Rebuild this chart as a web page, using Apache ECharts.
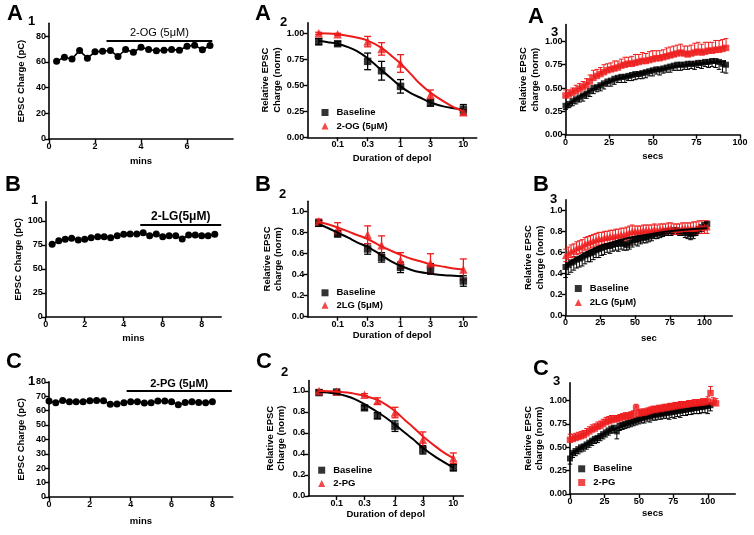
<!DOCTYPE html>
<html><head><meta charset="utf-8">
<script src="https://cdn.jsdelivr.net/npm/echarts@6/dist/echarts.min.js"></script>
<style>html,body{margin:0;padding:0;background:#fff}#c{width:754px;height:535px}</style>
</head><body><div id="c"></div>
<script>
// ---------- Panel 1 data (time courses) ----------
const a1Time = [0.33,0.67,1,1.33,1.67,2,2.33,2.67,3,3.33,3.67,4,4.33,4.67,5,5.33,5.67,6,6.33,6.67,7];
const a1Charge = [60.5,63.6,62.3,68.8,62.9,67.8,68.3,68.8,64.2,69.6,67.5,71.4,69.6,68.6,69.1,69.6,69.1,72.2,73.0,69.4,72.7];
const a1Drug = [2.5, 7.1, 76.5];
const b1Time = [0.33,0.67,1,1.33,1.67,2,2.33,2.67,3,3.33,3.67,4,4.33,4.67,5,5.33,5.67,6,6.33,6.67,7,7.33,7.67,8,8.33,8.67];
const b1Charge = [75.7,79.5,80.9,82,80.2,80.9,82.6,83.7,83.7,82.6,84.7,86.1,86.5,86.5,87.8,84.7,86.5,83.7,84.7,84.7,81.3,85.4,85.4,84.7,84.7,86.1];
const b1Drug = [4.85, 9.0, 96.5];
const c1Time = [0,0.33,0.67,1,1.33,1.67,2,2.33,2.67,3,3.33,3.67,4,4.33,4.67,5,5.33,5.67,6,6.33,6.67,7,7.33,7.67,8];
const c1Charge = [66.7,65.5,67.1,66.2,66.2,66.2,66.9,67.1,66.9,64.4,64.6,65.5,66.2,66.2,65.3,65.5,66.7,66.7,66.2,64.1,65.7,66.2,65.7,65.5,66.2];
const c1Drug = [3.8, 8.95, 73.6];

// ---------- Panel 2 data (duration of depol) ----------
const durX = [0.05,0.1,0.3,0.5,1,3,10];
const fitX = [0.05,0.07,0.1,0.15,0.2,0.3,0.5,0.7,1,1.5,2,3,5,7,10];
const a2Base = [0.92,0.90,0.73,0.64,0.49,0.33,0.27];
const a2BaseErr = [0.03,0.02,0.08,0.09,0.065,0.03,0.045];
const a2Drug = [1.0,0.99,0.92,0.85,0.71,0.41,0.24];
const a2DrugErr = [0.01,0.01,0.05,0.06,0.085,0.045,0.025];
const a2BaseFit = [0.925,0.915,0.90,0.865,0.83,0.76,0.645,0.57,0.49,0.42,0.385,0.335,0.295,0.28,0.265];
const a2DrugFit = [1.0,0.998,0.99,0.975,0.96,0.93,0.86,0.79,0.71,0.60,0.52,0.43,0.34,0.29,0.25];
const b2Base = [0.89,0.79,0.645,0.565,0.47,0.455,0.34];
const b2BaseErr = [0.03,0.03,0.05,0.045,0.05,0.05,0.05];
const b2Drug = [0.91,0.835,0.78,0.68,0.535,0.51,0.45];
const b2DrugErr = [0.02,0.06,0.085,0.09,0.075,0.09,0.1];
const b2BaseFit = [0.88,0.845,0.80,0.75,0.71,0.665,0.585,0.53,0.485,0.445,0.425,0.41,0.395,0.39,0.385];
const b2DrugFit = [0.905,0.88,0.85,0.81,0.78,0.74,0.67,0.63,0.59,0.55,0.53,0.50,0.475,0.46,0.45];
const c2Base = [0.985,0.99,0.84,0.765,0.665,0.44,0.27];
const c2BaseErr = [0.02,0.01,0.02,0.03,0.05,0.04,0.03];
const c2Drug = [1.0,0.995,0.965,0.905,0.795,0.535,0.36];
const c2DrugErr = [0.01,0.01,0.01,0.03,0.05,0.075,0.05];
const c2BaseFit = [0.99,0.985,0.975,0.95,0.925,0.875,0.80,0.745,0.68,0.60,0.545,0.46,0.37,0.32,0.27];
const c2DrugFit = [1.0,0.998,0.995,0.985,0.975,0.955,0.915,0.87,0.81,0.72,0.66,0.57,0.47,0.41,0.36];

// ---------- Panel 3 data (recovery, [sec, value, sem]) ----------
const a3Base = [[0,0.31,0.04],[2,0.33,0.04],[4,0.36,0.05],[6,0.38,0.05],[8,0.40,0.05],[10,0.42,0.06],[12,0.44,0.05],[14,0.47,0.06],[16,0.50,0.06],[18,0.51,0.05],[20,0.53,0.06],[22,0.55,0.06],[24,0.57,0.05],[26,0.58,0.06],[28,0.60,0.06],[30,0.61,0.05],[32,0.62,0.06],[34,0.62,0.06],[36,0.63,0.05],[38,0.64,0.06],[40,0.65,0.06],[42,0.65,0.05],[44,0.66,0.06],[46,0.67,0.06],[48,0.68,0.05],[50,0.69,0.06],[52,0.70,0.05],[54,0.70,0.06],[56,0.71,0.05],[58,0.72,0.05],[60,0.73,0.06],[62,0.74,0.05],[64,0.75,0.06],[66,0.75,0.06],[68,0.75,0.05],[70,0.76,0.06],[72,0.76,0.05],[74,0.76,0.06],[76,0.77,0.05],[78,0.77,0.06],[80,0.78,0.05],[82,0.78,0.06],[84,0.79,0.06],[86,0.79,0.07],[88,0.78,0.08],[90,0.76,0.09],[92,0.75,0.09]];
const a3Drug = [[0,0.42,0.06],[2,0.43,0.05],[4,0.45,0.05],[6,0.47,0.06],[8,0.49,0.06],[10,0.51,0.06],[12,0.53,0.07],[14,0.57,0.07],[16,0.61,0.08],[18,0.63,0.07],[20,0.65,0.07],[22,0.67,0.08],[24,0.69,0.07],[26,0.70,0.07],[28,0.71,0.08],[30,0.72,0.07],[32,0.74,0.07],[34,0.75,0.08],[36,0.76,0.07],[38,0.76,0.08],[40,0.77,0.09],[42,0.78,0.08],[44,0.79,0.09],[46,0.79,0.08],[48,0.80,0.09],[50,0.81,0.09],[52,0.82,0.08],[54,0.82,0.08],[56,0.83,0.08],[58,0.84,0.09],[60,0.85,0.09],[62,0.86,0.09],[64,0.87,0.09],[66,0.88,0.09],[68,0.87,0.08],[70,0.86,0.09],[72,0.87,0.09],[74,0.88,0.10],[76,0.89,0.10],[78,0.88,0.09],[80,0.89,0.10],[82,0.90,0.09],[84,0.90,0.09],[86,0.91,0.10],[88,0.91,0.10],[90,0.92,0.10],[92,0.93,0.10]];
const a3FitX = [0,5,10,15,20,25,30,40,50,60,70,80,92];
const a3Fit = [0.30,0.37,0.43,0.48,0.53,0.57,0.60,0.65,0.69,0.72,0.75,0.77,0.79];
const b3Base = [[0,0.46,0.10],[2,0.48,0.09],[4,0.50,0.09],[6,0.51,0.08],[8,0.53,0.08],[10,0.54,0.08],[12,0.55,0.08],[14,0.57,0.08],[16,0.58,0.07],[18,0.59,0.08],[20,0.60,0.07],[22,0.62,0.07],[24,0.63,0.08],[26,0.64,0.07],[28,0.65,0.07],[30,0.66,0.06],[32,0.66,0.07],[34,0.67,0.06],[36,0.68,0.06],[38,0.68,0.07],[40,0.69,0.06],[42,0.68,0.06],[44,0.67,0.05],[46,0.69,0.06],[48,0.71,0.06],[50,0.72,0.05],[52,0.72,0.06],[54,0.73,0.05],[56,0.74,0.05],[58,0.74,0.05],[60,0.75,0.05],[62,0.76,0.05],[64,0.77,0.04],[66,0.78,0.05],[68,0.78,0.04],[70,0.79,0.04],[72,0.80,0.04],[74,0.80,0.04],[76,0.80,0.04],[78,0.81,0.04],[80,0.81,0.04],[82,0.80,0.04],[84,0.80,0.04],[86,0.79,0.05],[88,0.78,0.05],[90,0.77,0.05],[92,0.78,0.05],[94,0.80,0.04],[96,0.82,0.04],[98,0.84,0.04],[100,0.86,0.04],[102,0.87,0.04]];
const b3Drug = [[0,0.57,0.06],[2,0.59,0.06],[4,0.61,0.06],[6,0.62,0.06],[8,0.64,0.06],[10,0.65,0.06],[12,0.66,0.06],[14,0.68,0.06],[16,0.69,0.06],[18,0.70,0.06],[20,0.71,0.06],[22,0.72,0.06],[24,0.73,0.06],[26,0.73,0.06],[28,0.74,0.06],[30,0.74,0.06],[32,0.75,0.06],[34,0.75,0.06],[36,0.76,0.06],[38,0.76,0.06],[40,0.77,0.06],[42,0.77,0.06],[44,0.78,0.06],[46,0.79,0.06],[48,0.80,0.06],[50,0.80,0.05],[52,0.80,0.05],[54,0.80,0.05],[56,0.81,0.05],[58,0.81,0.05],[60,0.81,0.05],[62,0.81,0.05],[64,0.82,0.05],[66,0.81,0.05],[68,0.82,0.05],[70,0.82,0.05],[72,0.82,0.05],[74,0.83,0.05],[76,0.83,0.05],[78,0.82,0.05],[80,0.82,0.05],[82,0.82,0.05],[84,0.83,0.05],[86,0.83,0.05],[88,0.83,0.05],[90,0.83,0.05],[92,0.83,0.06],[94,0.83,0.06],[96,0.84,0.06],[98,0.84,0.06],[100,0.84,0.06],[102,0.84,0.06]];
const b3FitX = [0,5,10,15,20,25,30,40,50,60,75,90,102];
const b3Fit = [0.47,0.52,0.56,0.60,0.63,0.66,0.68,0.72,0.75,0.77,0.80,0.82,0.83];
const c3Base = [[0,0.38,0.06],[2,0.44,0.05],[4,0.46,0.05],[6,0.48,0.05],[8,0.50,0.05],[10,0.51,0.05],[12,0.53,0.05],[14,0.55,0.05],[16,0.57,0.05],[18,0.59,0.05],[20,0.60,0.05],[22,0.62,0.05],[24,0.64,0.05],[26,0.66,0.05],[28,0.68,0.05],[30,0.70,0.05],[32,0.71,0.05],[34,0.67,0.08],[36,0.73,0.05],[38,0.74,0.05],[40,0.75,0.05],[42,0.76,0.05],[44,0.77,0.05],[46,0.78,0.05],[48,0.79,0.05],[50,0.80,0.05],[52,0.81,0.05],[54,0.82,0.06],[56,0.83,0.05],[58,0.83,0.06],[60,0.84,0.05],[62,0.85,0.06],[64,0.85,0.05],[66,0.86,0.06],[68,0.86,0.05],[70,0.87,0.06],[72,0.87,0.07],[74,0.88,0.06],[76,0.88,0.07],[78,0.89,0.06],[80,0.89,0.07],[82,0.90,0.06],[84,0.90,0.06],[86,0.91,0.06],[88,0.91,0.06],[90,0.92,0.06],[92,0.92,0.06],[94,0.93,0.07],[96,0.93,0.06],[98,0.94,0.07],[100,0.94,0.08],[102,0.95,0.06]];
const c3Drug = [[0,0.58,0.06],[2,0.59,0.05],[4,0.60,0.05],[6,0.61,0.05],[8,0.62,0.05],[10,0.63,0.05],[12,0.65,0.05],[14,0.67,0.05],[16,0.69,0.05],[18,0.70,0.05],[20,0.72,0.05],[22,0.73,0.05],[24,0.75,0.05],[26,0.77,0.05],[28,0.78,0.05],[30,0.79,0.05],[32,0.80,0.04],[34,0.80,0.04],[36,0.81,0.04],[38,0.82,0.04],[40,0.83,0.04],[42,0.83,0.04],[44,0.84,0.04],[46,0.85,0.04],[48,0.92,0.04],[50,0.86,0.04],[52,0.87,0.04],[54,0.87,0.04],[56,0.88,0.04],[58,0.89,0.04],[60,0.90,0.04],[62,0.90,0.04],[64,0.91,0.04],[66,0.91,0.04],[68,0.92,0.04],[70,0.92,0.04],[72,0.93,0.04],[74,0.93,0.04],[76,0.94,0.04],[78,0.94,0.04],[80,0.95,0.04],[82,0.95,0.04],[84,0.95,0.04],[86,0.96,0.04],[88,0.96,0.04],[90,0.97,0.04],[92,0.97,0.04],[94,0.97,0.04],[96,0.98,0.04],[98,0.98,0.04],[100,0.99,0.05],[102,1.08,0.07],[104,0.98,0.05],[106,0.97,0.05]];
const c3FitX = [0,5,10,15,20,25,30,40,50,60,75,90,102];
const c3Fit = [0.42,0.47,0.52,0.57,0.61,0.65,0.68,0.74,0.79,0.83,0.88,0.92,0.94];

// ---------- Tick labels ----------
const a1XTicks = [0,2,4,6];
const b1XTicks = [0,2,4,6,8];
const c1XTicks = [0,2,4,6,8];
const durTicks = [0.1,0.3,1,3,10];
const secTicks = [0,25,50,75,100];
const a1YTicks = [0,20,40,60,80];
const b1YTicks = [0,25,50,75,100];
const c1YTicks = [0,10,20,30,40,50,60,70,80];
const quarterTicks = [0,0.25,0.5,0.75,1];
const fifthTicks = [0,0.2,0.4,0.6,0.8,1];

// ---------- layout / styling ----------
const FONT = '"Liberation Sans", Arial, sans-serif';
const RED = '#ee1b1b';
const grids = [
  {left:49, top:23.3, width:184, height:115.7},
  {left:307.3, top:22.9, width:169.4, height:114.4},
  {left:565.5, top:24.6, width:174.5, height:110.1},
  {left:45.7, top:201.8, width:175.5, height:115.2},
  {left:307.3, top:201.2, width:169.4, height:115.5},
  {left:565.5, top:199.8, width:166.8, height:115.5},
  {left:49, top:381.8, width:183.8, height:115.2},
  {left:308.3, top:380.5, width:155, height:115.5},
  {left:570, top:382.8, width:165.3, height:111.2}
].map(g => Object.assign({outerBoundsMode:'none', containLabel:false}, g));

const xSpec = [
  ['value',0,8,a1XTicks,0,'mins',17],
  ['log',0.0329,16.3,durTicks,-1,'Duration of depol',15],
  ['value',0,100,secTicks,0,'secs',16],
  ['value',0,9,b1XTicks,0,'mins',16],
  ['log',0.0329,16.3,durTicks,-1,'Duration of depol',13],
  ['value',0,120,secTicks,0,'sec',17],
  ['value',0,9,c1XTicks,0,'mins',19],
  ['log',0.0327,14.8,durTicks,-1,'Duration of depol',13],
  ['value',0,120,secTicks,0,'secs',14]
];
const ySpec = [
  [0,90,a1YTicks,0,'EPSC Charge (pC)',22],
  [0,1.1,quarterTicks,2,'Relative EPSC\nCharge (norm)',18],
  [0,1.18,quarterTicks,2,'Relative EPSC\ncharge (norm)',24],
  [0,120,b1YTicks,0,'EPSC Charge (pC)',20],
  [0,1.1,fifthTicks,1,'Relative EPSC\ncharge (norm)',23],
  [0,1.1,fifthTicks,1,'Relative EPSC\ncharge (norm)',19],
  [0,80,c1YTicks,0,'EPSC Charge (pC)',22],
  [0,1.1,fifthTicks,1,'Relative EPSC\nCharge (norm)',21],
  [0,1.19,quarterTicks,2,'Relative EPSC\ncharge (norm)',21]
];
const lineAx = {lineStyle:{color:'#000', width:1.6}};
const tickAx = {length:4, lineStyle:{color:'#000', width:1.4}};
const lblStyle = {color:'#000', fontFamily:FONT, fontSize:9, fontWeight:'bold', margin:3};
const nameStyle = {color:'#000', fontFamily:FONT, fontSize:9.5, fontWeight:'bold', lineHeight:11.5};

const xAxis = xSpec.map((s,i) => ({
  type:s[0], gridIndex:i, min:s[1], max:s[2], logBase:10,
  name:s[5], nameLocation:'middle', nameGap:s[6], nameTextStyle:nameStyle,
  axisLine:Object.assign({onZero:false}, lineAx),
  axisTick:Object.assign({customValues:s[3]}, tickAx),
  axisLabel:Object.assign({customValues:s[3], formatter:v => s[4] < 0 ? String(+(+v).toPrecision(3)) : (+v).toFixed(s[4])}, lblStyle),
  splitLine:{show:false}, minorTick:{show:false}
}));
const yAxis = ySpec.map((s,i) => ({
  type:'value', gridIndex:i, min:s[0], max:s[1],
  name:s[4], nameLocation:'middle', nameRotate:90, nameGap:s[5], nameTextStyle:nameStyle,
  axisLine:Object.assign({onZero:false}, lineAx),
  axisTick:Object.assign({customValues:s[2]}, tickAx),
  axisLabel:Object.assign({customValues:s[2], formatter:v => (+v).toFixed(s[3])}, lblStyle),
  splitLine:{show:false}
}));

function timeSeries(gi, xs, ys, bar, label, fw, fs) {
  return {
    type:'line', xAxisIndex:gi, yAxisIndex:gi, silent:true, emphasis:{disabled:true},
    data: xs.map((x,i) => [x, ys[i]]),
    symbol:'circle', symbolSize:7, showAllSymbol:true,
    itemStyle:{color:'#000'}, lineStyle:{color:'#000', width:1.6},
    markLine:{
      silent:true, animation:false, symbol:['none','none'],
      lineStyle:{color:'#000', width:1.8, type:'solid'},
      label:{show:true, position:'insideMiddleTop', formatter:label, color:'#000', fontFamily:FONT, fontSize:fs, fontWeight:fw, distance:2},
      emphasis:{disabled:true},
      data:[[{coord:[bar[0], bar[2]]},{coord:[bar[1], bar[2]]}]]
    }
  };
}

function errSeries(gi, pts, color, dir, cap, lw) {
  return {
    type:'custom', xAxisIndex:gi, yAxisIndex:gi, silent:true, data:pts,
    encode:{x:0, y:1}, clip:false,
    renderItem:function(params, api) {
      const x = api.value(0), y = api.value(1), e = api.value(2);
      const top = api.coord([x, dir === 'down' ? y : y + e]);
      const bot = api.coord([x, dir === 'up' ? y : y - e]);
      const st = {stroke:color, lineWidth:lw};
      const ch = [{type:'line', shape:{x1:top[0], y1:top[1], x2:bot[0], y2:bot[1]}, style:st}];
      if (dir !== 'down') ch.push({type:'line', shape:{x1:top[0]-cap, y1:top[1], x2:top[0]+cap, y2:top[1]}, style:st});
      if (dir !== 'up') ch.push({type:'line', shape:{x1:bot[0]-cap, y1:bot[1], x2:bot[0]+cap, y2:bot[1]}, style:st});
      return {type:'group', children:ch};
    }
  };
}

function fitSeries(gi, xs, ys, color, nm) {
  return {type:'line', name:nm, xAxisIndex:gi, yAxisIndex:gi, silent:true, emphasis:{disabled:true},
    data: xs.map((x,i) => [x, ys[i]]), smooth:0.35, symbol:'none',
    lineStyle:{color:color, width:2}, itemStyle:{color:color}};
}

function ptSeries(gi, pts, color, sym, size, nm) {
  return {type:'scatter', name:nm, xAxisIndex:gi, yAxisIndex:gi, silent:true, emphasis:{disabled:true},
    data:pts, symbol:sym, symbolSize:size, itemStyle:{color:color}, encode:{x:0, y:1}};
}

function doseSet(gi, base, baseErr, drug, drugErr, baseFit, drugFit, drugName) {
  const bp = durX.map((x,i) => [x, base[i], baseErr[i]]);
  const dp = durX.map((x,i) => [x, drug[i], drugErr[i]]);
  return [
    fitSeries(gi, fitX, baseFit, '#000', 'fitB' + gi),
    fitSeries(gi, fitX, drugFit, RED, 'fitD' + gi),
    errSeries(gi, bp, '#000', 'both', 3.5, 1.3),
    errSeries(gi, dp, RED, 'both', 3.5, 1.3),
    ptSeries(gi, bp, '#000', 'rect', 7.5, 'Baseline'),
    ptSeries(gi, dp, RED, 'triangle', 8.5, drugName)
  ];
}

function recSet(gi, base, drug, fx, fy, drugName, drugSym, drugDir) {
  return [
    errSeries(gi, base, '#000', 'down', 2.3, 1),
    ptSeries(gi, base, '#000', 'rect', 6, 'Baseline'),
    errSeries(gi, drug, RED, drugDir, 2.3, 1),
    ptSeries(gi, drug, RED, drugSym, drugSym === 'triangle' ? 7 : 6.5, drugName),
    fitSeries(gi, fx, fy, '#000', 'fit3' + gi)
  ];
}

const series = [].concat(
  [timeSeries(0, a1Time, a1Charge, a1Drug, '2-OG (5μM)', 'normal', 11)],
  doseSet(1, a2Base, a2BaseErr, a2Drug, a2DrugErr, a2BaseFit, a2DrugFit, '2-OG (5μM)'),
  recSet(2, a3Base, a3Drug, a3FitX, a3Fit, '2-OG (5μM) ', 'rect', 'up'),
  [timeSeries(3, b1Time, b1Charge, b1Drug, '2-LG(5μM)', 'bold', 12)],
  doseSet(4, b2Base, b2BaseErr, b2Drug, b2DrugErr, b2BaseFit, b2DrugFit, '2LG (5μM)'),
  recSet(5, b3Base, b3Drug, b3FitX, b3Fit, '2LG (5μM)', 'triangle', 'both'),
  [timeSeries(6, c1Time, c1Charge, c1Drug, '2-PG (5μM)', 'bold', 11)],
  doseSet(7, c2Base, c2BaseErr, c2Drug, c2DrugErr, c2BaseFit, c2DrugFit, '2-PG'),
  recSet(8, c3Base, c3Drug, c3FitX, c3Fit, '2-PG', 'rect', 'up')
);

const legTxt = {color:'#000', fontFamily:FONT, fontSize:9.5, fontWeight:'bold', padding:[0,0,0,3]};
function leg(left, top, gap, items) {
  return {left:left, top:top, orient:'vertical', itemWidth:7, itemHeight:7, itemGap:gap, padding:0,
    selectedMode:false, textStyle:legTxt, data:items.map(it => ({name:it[0], icon:it[1]}))};
}
const legend = [
  leg(321.5, 107.5, 3.5, [['Baseline','rect'],['2-OG (5μM)','triangle']]),
  leg(321.5, 287.8, 2.4, [['Baseline','rect'],['2LG (5μM)','triangle']]),
  leg(318.2, 465.2, 3.3, [['Baseline','rect'],['2-PG','triangle']]),
  leg(574.8, 283.5, 4, [['Baseline','rect'],['2LG (5μM)','triangle']]),
  leg(578.2, 463.8, 3.7, [['Baseline','rect'],['2-PG','rect']])
];

const letters = [
  ['A','1',7,3,28,15],['A','2',255,3,280,16],['A','3',528,6,551,26],
  ['B','1',5,174,31,194],['B','2',255,174,279,188],['B','3',533,174,550,193],
  ['C','1',6,351,28,375],['C','2',256,351,281,366],['C','3',533,358,553,375]
];
const graphic = [];
letters.forEach(l => {
  graphic.push({type:'text', left:l[2], top:l[3], silent:true,
    style:{text:l[0], fontFamily:FONT, fontSize:22, fontWeight:'bold', fill:'#000'}});
  graphic.push({type:'text', left:l[4], top:l[5], silent:true,
    style:{text:l[1], fontFamily:FONT, fontSize:13, fontWeight:'bold', fill:'#000'}});
});

const chart = echarts.init(document.getElementById('c'), null, {renderer:'canvas'});
chart.setOption({
  animation:false, backgroundColor:'#fff',
  grid:grids, xAxis:xAxis, yAxis:yAxis, series:series, legend:legend, graphic:graphic
});
</script></body></html>
